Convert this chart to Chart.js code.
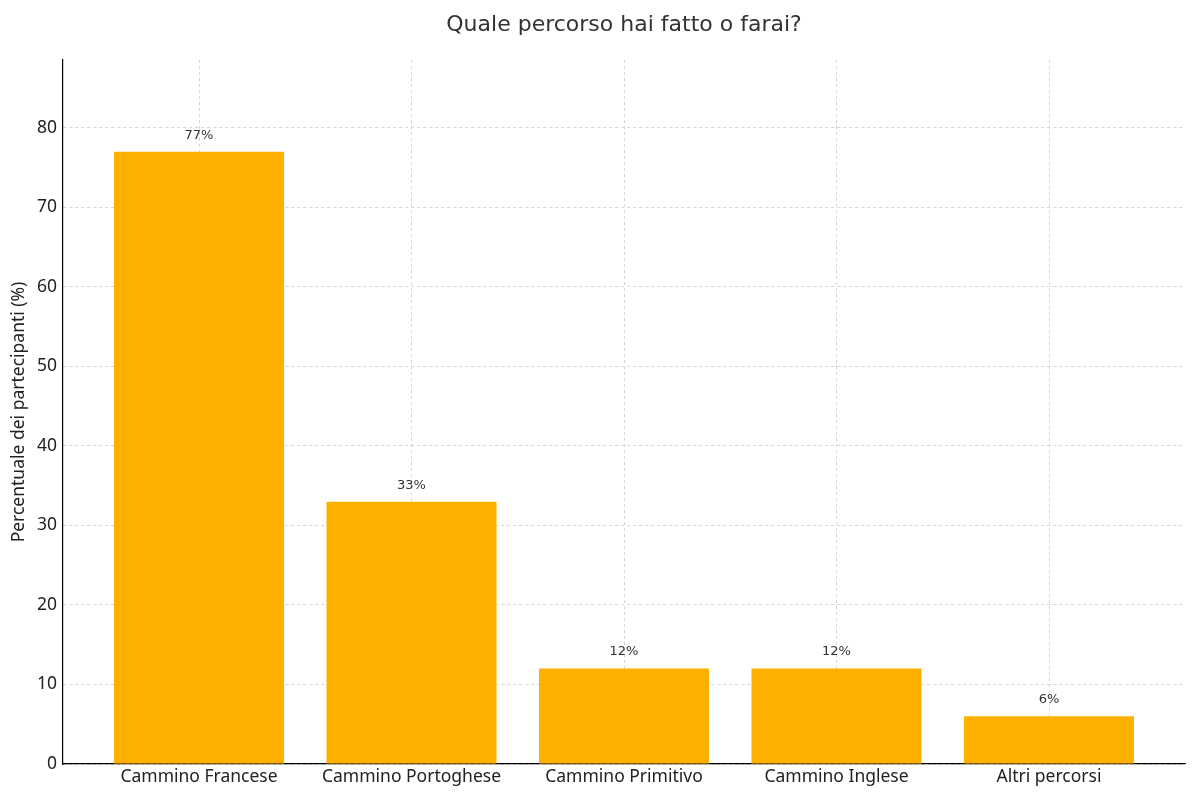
<!DOCTYPE html>
<html>
<head>
<meta charset="utf-8">
<script src="https://cdn.jsdelivr.net/npm/chart.js@4"></script>
<style>
  html, body { margin: 0; padding: 0; background: #fff; }
  #wrap { width: 1200px; height: 800px; }
</style>
</head>
<body>
<div id="wrap"><canvas id="chart" width="1200" height="800"></canvas></div>
<script>
const categories = ['Cammino Francese', 'Cammino Portoghese', 'Cammino Primitivo', 'Cammino Inglese', 'Altri percorsi']
const percentages = [77, 33, 12, 12, 6]
const yTicks = [0, 10, 20, 30, 40, 50, 60, 70, 80]
const chartTitle = 'Quale percorso hai fatto o farai?'

const barColor = '#FDB000'
const tickFont = { family: 'Noto Sans', size: 17.5 }

// draws "77%" etc above each bar, and the title centred over the plot area
const valueLabels = {
  id: 'valueLabels',
  afterDatasetsDraw(chart) {
    const ctx = chart.ctx
    const meta = chart.getDatasetMeta(0)
    ctx.save()
    ctx.font = '13px "DejaVu Sans"'
    ctx.fillStyle = '#333'
    ctx.textAlign = 'center'
    ctx.textBaseline = 'bottom'
    meta.data.forEach((bar, i) => {
      ctx.fillText(percentages[i] + '%', bar.x, bar.y - 10)
    })
    const area = chart.chartArea
    ctx.font = '22px "DejaVu Sans"'
    ctx.textBaseline = 'middle'
    ctx.fillText(chartTitle, (area.left + area.right) / 2, 25)
    ctx.restore()
  }
}

const ctx = document.getElementById('chart').getContext('2d')
const chart = new Chart(ctx, {
  type: 'bar',
  data: {
    datasets: [{
      label: 'Percentuale',
      backgroundColor: barColor,
      data: percentages.map((v, i) => ({ x: i, y: v })),
      barPercentage: 0.8,
      categoryPercentage: 1.0,
    }],
  },
  plugins: [valueLabels],
  options: {
    responsive: false,
    animation: false,
    layout: { padding: { left: 0, right: 15, top: 60, bottom: 0 } },
    plugins: {
      legend: { display: false },
      tooltip: { enabled: false },
      title: { display: false },
    },
    scales: {
      x: {
        type: 'linear',
        offset: false,
        min: -0.64,
        max: 4.64,
        afterBuildTicks: scale => { scale.ticks = categories.map((c, i) => ({ value: i })) },
        afterFit: scale => { scale.height = 36 },
        ticks: {
          color: '#222',
          font: tickFont,
          padding: 3,
          autoSkip: false,
          maxRotation: 0,
          callback: v => categories[v],
        },
        grid: {
          offset: false,
          color: '#cccccc',
          lineWidth: 0.8,
          drawTicks: false,
        },
        border: { display: true, color: '#000', width: 1.2, dash: [3, 3] },
      },
      y: {
        min: 0,
        max: 88.55,
        afterBuildTicks: scale => { scale.ticks = yTicks.map(v => ({ value: v })) },
        afterFit: scale => { scale.width = 63 },
        title: {
          display: true,
          text: 'Percentuale dei partecipanti (%)',
          color: '#222',
          font: { family: 'Noto Sans', size: 17.5 },
          padding: { top: 9, bottom: 0 },
        },
        ticks: {
          color: '#222',
          font: tickFont,
          padding: 6,
        },
        grid: {
          color: '#cccccc',
          lineWidth: 0.8,
          drawTicks: false,
        },
        border: { display: true, color: '#000', width: 1.2, dash: [3, 3] },
      },
    },
  },
})
</script>
</body>
</html>
